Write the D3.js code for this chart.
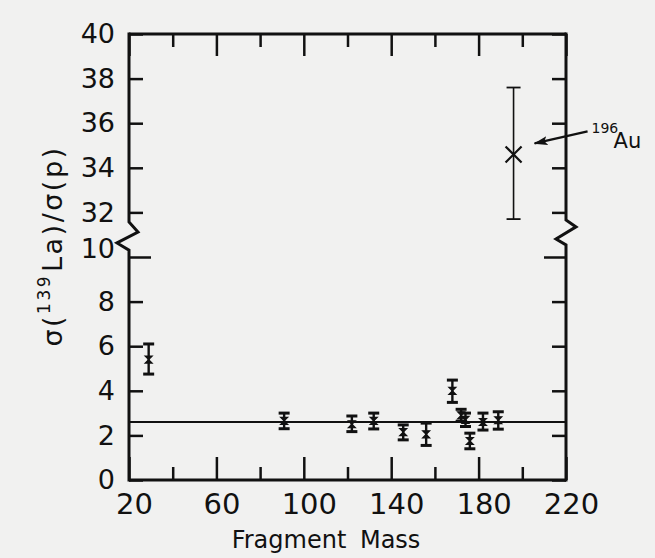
<!DOCTYPE html>
<html>
<head>
<meta charset="utf-8">
<script src="https://cdn.jsdelivr.net/npm/d3@7"></script>
<style>
  body { margin: 0; background: #f1f1f0; }
  svg { display: block; }
</style>
</head>
<body>
<div id="chart"></div>
<script>
// Data
var mass    = [29, 91, 122, 132, 145.5, 156, 168, 172, 174, 176, 182, 189, 196];
var ratio   = [5.4, 2.65, 2.5, 2.65, 2.15, 2.05, 4.0, 2.9, 2.7, 1.75, 2.6, 2.68, 34.6];
var errUp   = [0.7, 0.35, 0.37, 0.35, 0.32, 0.5, 0.48, 0.27, 0.3, 0.35, 0.4, 0.38, 3.0];
var errDown = [0.65, 0.35, 0.33, 0.36, 0.35, 0.5, 0.52, 0.27, 0.3, 0.35, 0.36, 0.4, 2.9];
var fitValue = 2.6;

var xMajor = [20, 60, 100, 140, 180, 220];
var xMinor = [40, 80, 120, 160, 200];
var yTicks = [0, 2, 4, 6, 8, 10, 32, 34, 36, 38, 40];

var svgWidth = 655;
var svgHeight = 558;

// broken axis: values above the break are shifted down by 20
function disp(v) { return v <= 10 ? v : v - 20; }

var xScale = d3.scaleLinear().domain([20, 220]).range([129, 566]);
var yScale = d3.scaleLinear().domain([0, 20]).range([480, 34]);

var svg = d3.select("#chart")
  .append("svg")
  .attr("width", svgWidth)
  .attr("height", svgHeight);

svg.append("rect")
  .attr("width", svgWidth)
  .attr("height", svgHeight)
  .attr("fill", "#f1f1f0");

var ink = "#111";
var font = "DejaVu Sans";

// bottom axis, major ticks with labels
var bottomMajor = svg.append("g")
  .attr("transform", `translate(0, ${yScale(0)})`)
  .call(d3.axisBottom(xScale).tickValues(xMajor).tickSize(-23).tickPadding(13));
var bottomMinor = svg.append("g")
  .attr("transform", `translate(0, ${yScale(0)})`)
  .call(d3.axisBottom(xScale).tickValues(xMinor).tickSize(-13).tickFormat(""));

// top axis, ticks only
var topMajor = svg.append("g")
  .attr("transform", `translate(0, ${yScale(20)})`)
  .call(d3.axisTop(xScale).tickValues(xMajor).tickSize(-22).tickFormat(""));
var topMinor = svg.append("g")
  .attr("transform", `translate(0, ${yScale(20)})`)
  .call(d3.axisTop(xScale).tickValues(xMinor).tickSize(-13).tickFormat(""));

// left and right axes
var leftAxis = svg.append("g")
  .attr("transform", `translate(${xScale(20)}, 0)`)
  .call(d3.axisLeft(yScale).tickValues(yTicks.map(disp)).tickSize(-14).tickPadding(14)
    .tickFormat((d, i) => yTicks[i]));
var rightAxis = svg.append("g")
  .attr("transform", `translate(${xScale(220)}, 0)`)
  .call(d3.axisRight(yScale).tickValues(yTicks.map(disp)).tickSize(-14).tickFormat(""));

[bottomMajor, bottomMinor, topMajor, topMinor, leftAxis, rightAxis].forEach(function(g) {
  g.select(".domain").remove();
  g.selectAll(".tick line").attr("stroke", ink).attr("stroke-width", 2.5);
});

// the 10 tick is longer on both sides
leftAxis.selectAll(".tick").filter(d => d === 10).select("line").attr("x2", 22);
rightAxis.selectAll(".tick").filter(d => d === 10).select("line").attr("x2", -22);
leftAxis.selectAll(".tick").filter(d => d === 10).select("text").attr("dy", "0.0em");

bottomMajor.selectAll(".tick text")
  .attr("font-family", font)
  .attr("font-size", 29)
  .attr("fill", ink)
  .attr("dx", 5);

leftAxis.selectAll(".tick text")
  .attr("font-family", font)
  .attr("font-size", 27)
  .attr("fill", ink);

// frame with break zigzags
var frameLine = d3.line();
var yB = yScale(20), y0 = yScale(0);
var xL = xScale(20), xR = xScale(220);
svg.append("path")
  .attr("d", frameLine([[xL, yB], [xR, yB]]))
  .attr("stroke", ink).attr("stroke-width", 3);
svg.append("path")
  .attr("d", frameLine([[xL, y0], [xR, y0]]))
  .attr("stroke", ink).attr("stroke-width", 3);
svg.append("path")
  .attr("d", frameLine([[xL, yB - 1.5], [xL, yScale(11.57)], [xL + 9, yScale(11.12)],
                        [xL - 12, yScale(10.63)], [xL, yScale(10.31)], [xL, y0 + 1.5]]))
  .attr("fill", "none").attr("stroke", ink).attr("stroke-width", 3)
  .attr("stroke-linejoin", "miter");
svg.append("path")
  .attr("d", frameLine([[xR, yB - 1.5], [xR, yScale(11.66)], [xR + 10, yScale(11.35)],
                        [xR - 10, yScale(10.81)], [xR, yScale(10.54)], [xR, y0 + 1.5]]))
  .attr("fill", "none").attr("stroke", ink).attr("stroke-width", 3)
  .attr("stroke-linejoin", "miter");

// fitted mean line
svg.append("line")
  .attr("x1", xScale(20)).attr("x2", xScale(220))
  .attr("y1", yScale(fitValue)).attr("y2", yScale(fitValue))
  .attr("stroke", ink).attr("stroke-width", 2);

// data points with error bars
var points = mass.map((m, i) => ({
  m: m, v: ratio[i], hi: ratio[i] + errUp[i], lo: ratio[i] - errDown[i], big: m === 196
}));

var pt = svg.append("g").selectAll("g")
  .data(points)
  .enter().append("g");

pt.append("line")
  .attr("x1", d => xScale(d.m)).attr("x2", d => xScale(d.m))
  .attr("y1", d => yScale(disp(d.hi))).attr("y2", d => yScale(disp(d.lo)))
  .attr("stroke", ink).attr("stroke-width", d => d.big ? 1.6 : 2.4);

["hi", "lo"].forEach(function(k) {
  pt.append("line")
    .attr("x1", d => xScale(d.m) - (d.big ? 7 : 5.5))
    .attr("x2", d => xScale(d.m) + (d.big ? 7 : 5.5))
    .attr("y1", d => yScale(disp(d[k])))
    .attr("y2", d => yScale(disp(d[k])))
    .attr("stroke", ink).attr("stroke-width", d => d.big ? 1.8 : 3);
});

// small bow-tie marker for ordinary points
pt.filter(d => !d.big).append("path")
  .attr("d", function(d) {
    var cx = xScale(d.m), cy = yScale(disp(d.v));
    return `M${cx - 3.5},${cy - 3.5}L${cx + 3.5},${cy - 3.5}L${cx - 3.5},${cy + 3.5}L${cx + 3.5},${cy + 3.5}Z`;
  })
  .attr("fill", ink).attr("stroke", ink).attr("stroke-width", 1.2);

// big X for the gold point
pt.filter(d => d.big).append("path")
  .attr("d", function(d) {
    var cx = xScale(d.m), cy = yScale(disp(d.v));
    return `M${cx - 8},${cy - 8}L${cx + 8},${cy + 8}M${cx - 8},${cy + 8}L${cx + 8},${cy - 8}`;
  })
  .attr("stroke", ink).attr("stroke-width", 2.2);

// annotation for 196Au
var auX = xScale(196), auY = yScale(disp(34.6));
svg.append("defs").append("marker")
  .attr("id", "arrow")
  .attr("viewBox", "0 0 14 9")
  .attr("refX", 13).attr("refY", 4.5)
  .attr("markerWidth", 14).attr("markerHeight", 9)
  .attr("markerUnits", "userSpaceOnUse")
  .attr("orient", "auto")
  .append("path")
  .attr("d", "M14,4.5L0,0L3,4.5L0,9Z")
  .attr("fill", ink);

svg.append("line")
  .attr("x1", auX + 74).attr("y1", auY - 23)
  .attr("x2", auX + 21).attr("y2", auY - 11)
  .attr("stroke", ink).attr("stroke-width", 2.2)
  .attr("marker-end", "url(#arrow)");

svg.append("text")
  .attr("x", auX + 78).attr("y", auY - 21)
  .attr("font-family", font).attr("font-size", 14).attr("fill", ink)
  .text("196");
svg.append("text")
  .attr("x", auX + 100).attr("y", auY - 6)
  .attr("font-family", font).attr("font-size", 21).attr("fill", ink)
  .text("Au");

// axis titles
svg.append("text")
  .attr("x", 326).attr("y", 548)
  .attr("text-anchor", "middle")
  .attr("font-family", font).attr("font-size", 24)
  .attr("word-spacing", 6)
  .attr("fill", ink)
  .text("Fragment Mass");

var yTitle = svg.append("text")
  .attr("transform", "translate(62, 246) rotate(-90)")
  .attr("text-anchor", "middle")
  .attr("font-family", font).attr("font-size", 27)
  .attr("letter-spacing", 2.5)
  .attr("fill", ink);
yTitle.append("tspan").text("σ(");
yTitle.append("tspan").attr("font-size", 17).attr("dy", -12).text("139");
yTitle.append("tspan").attr("dy", 12).attr("dx", 2).text("La)/σ(p)");
</script>
</body>
</html>
